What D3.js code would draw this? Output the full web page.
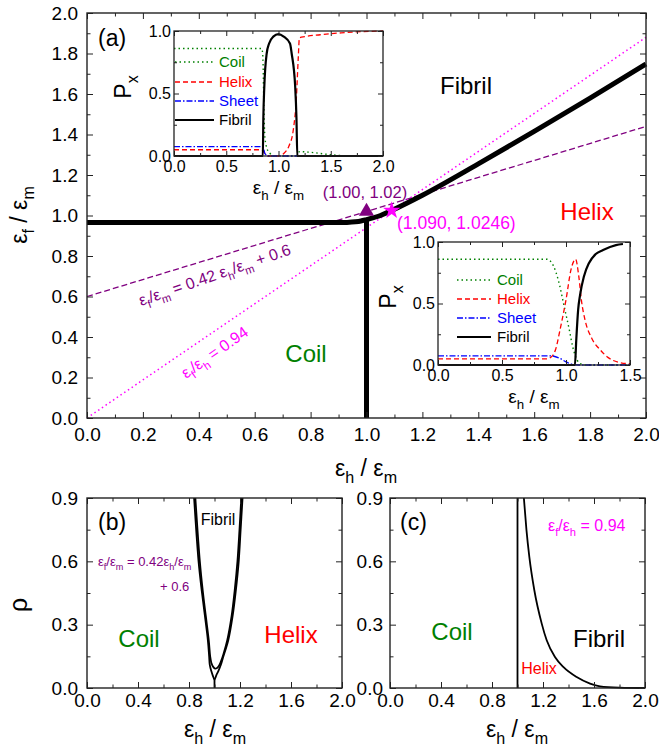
<!DOCTYPE html>
<html><head><meta charset="utf-8">
<script src="https://cdn.jsdelivr.net/npm/d3@7"></script>
<style>body{margin:0;background:#fff}</style>
</head><body>
<svg id="c" width="659" height="748"></svg>
<script>
// ---------------- DATA ----------------
// Panel (a) main phase diagram
const mainXTicks = [0,0.2,0.4,0.6,0.8,1.0,1.2,1.4,1.6,1.8,2.0];
const mainXMinor = [0.1,0.3,0.5,0.7,0.9,1.1,1.3,1.5,1.7,1.9];
const mainYTicks = [0,0.2,0.4,0.6,0.8,1.0,1.2,1.4,1.6,1.8,2.0];
const mainYMinor = [0.1,0.3,0.5,0.7,0.9,1.1,1.3,1.5,1.7,1.9];
const boundaryUpper = [[0,0.965],[0.9,0.965],[0.93,0.966],[0.96,0.969],[0.98,0.973],[1.0,0.98],[1.05,1.0],[1.09,1.0246],[1.2,1.10],[1.4,1.255],[1.6,1.415],[1.8,1.58],[2.0,1.748]];
const boundaryVertical = [[1.0,0],[1.0,0.975]];
const purpleLine = [[0,0.6],[2.0,1.44]];     // εf/εm = 0.42 εh/εm + 0.6
const magentaLine = [[0,0],[2.0,1.88]];      // εf/εh = 0.94
const trianglePoint = [1.00,1.02];
const starPoint = [1.09,1.0246];

// Inset 1 (upper)
const in1XTicks = [0,0.5,1.0,1.5,2.0];
const in1XMinor = [0.25,0.75,1.25,1.75];
const inYTicks = [0,0.5,1.0];
const inYMinor = [0.25,0.75];
const coil1 = [[0,0.86],[0.84,0.86],[0.85,0.8],[0.86,0.4],[0.87,0.15],[0.89,0.06],[0.92,0.02],[0.96,0.0],[1.15,0],[1.18,0.01],[1.2,0.035],[1.3,0.03],[1.5,0.01],[1.7,0.0],[2.0,0]];
const helix1 = [[0,0.05],[0.84,0.05],[0.87,0.02],[0.9,0.0],[1.0,0.0],[1.05,0.02],[1.1,0.08],[1.14,0.2],[1.17,0.45],[1.19,0.8],[1.2,0.945],[1.25,0.955],[1.4,0.97],[1.6,0.985],[1.8,0.995],[2.0,1.0]];
const sheet1 = [[0,0.075],[0.85,0.075],[0.87,0.02],[0.9,0.0],[2.0,0]];
const fibril1 = [[0,0],[0.85,0],[0.855,0.3],[0.864,0.55],[0.887,0.82],[0.91,0.9],[0.95,0.955],[1.0,0.975],[1.05,0.955],[1.11,0.9],[1.126,0.82],[1.16,0.55],[1.172,0.3],[1.18,0],[2.0,0]];

// Inset 2 (lower)
const in2XTicks = [0,0.5,1.0,1.5];
const in2XMinor = [0.25,0.75,1.25];
const coil2 = [[0,0.86],[0.85,0.86],[0.9,0.81],[0.94,0.69],[0.987,0.47],[1.026,0.285],[1.052,0.149],[1.075,0.07],[1.1,0.02],[1.15,0.0],[1.5,0]];
const helix2 = [[0,0.05],[0.85,0.05],[0.89,0.07],[0.92,0.13],[0.95,0.27],[1.0,0.53],[1.04,0.78],[1.075,0.86],[1.1,0.72],[1.12,0.53],[1.15,0.36],[1.2,0.22],[1.27,0.12],[1.33,0.06],[1.42,0.02],[1.5,0.01]];
const sheet2 = [[0,0.075],[0.88,0.075],[0.95,0.055],[1.0,0.025],[1.05,0.005],[1.1,0],[1.5,0]];
const fibril2 = [[0,0],[1.07,0],[1.08,0.2],[1.095,0.45],[1.11,0.57],[1.14,0.72],[1.18,0.83],[1.23,0.9],[1.29,0.935],[1.39,0.975],[1.445,0.984]];

const legendNames = ["Coil","Helix","Sheet","Fibril"];

// Panels (b), (c)
const bcXTicks = [0,0.4,0.8,1.2,1.6,2.0];
const bcXMinor = [0.2,0.6,1.0,1.4,1.8];
const bcYTicks = [0,0.3,0.6,0.9];
const bcYMinor = [0.15,0.45,0.75];
const bOuter = [[0.84,0.9],[0.875,0.6],[0.9,0.46],[0.925,0.34],[0.948,0.226],[0.958,0.15],[0.963,0.11],[0.975,0.08],[0.986,0.06],[1.0,0.04],[1.014,0.06],[1.03,0.08],[1.05,0.11],[1.07,0.15],[1.108,0.226],[1.142,0.34],[1.167,0.46],[1.19,0.6],[1.205,0.75],[1.22,0.9]];
const bInner = [[0.85,0.9],[0.885,0.6],[0.908,0.46],[0.932,0.34],[0.955,0.226],[0.966,0.15],[0.975,0.12],[0.99,0.1],[1.005,0.092],[1.02,0.095],[1.035,0.105],[1.05,0.125],[1.07,0.16],[1.1,0.226],[1.134,0.34],[1.158,0.46],[1.18,0.6],[1.196,0.75],[1.21,0.9]];
const bStem = [[1.0,0],[1.0,0.04]];
const cVertical = [[1.0,0],[1.0,0.9]];
const cCurve = [[1.05,0.9],[1.07,0.75],[1.093,0.62],[1.132,0.463],[1.19,0.305],[1.229,0.226],[1.294,0.147],[1.359,0.1],[1.464,0.052],[1.569,0.021],[1.647,0.008],[1.8,0.002],[2.0,0.0]];

// ---------------- DRAWING ----------------
const FONT = "'Liberation Sans', Arial, Helvetica, sans-serif";
const GREEN="#008000", RED="#ff0000", BLUE="#0000ff", MAG="#ff00ff", PUR="#800080";
const svg = d3.select('#c');
svg.append('rect').attr('width',659).attr('height',748).attr('fill','#fff');

function rich(sel, str, fs){
  const parts=[]; let buf='';
  for(let k=0;k<str.length;k++){const c=str[k]; if(c==='_'){ if(buf) parts.push([buf,false]); buf=''; parts.push([str[k+1],true]); k++; } else buf+=c;}
  if(buf) parts.push([buf,false]);
  let shifted=false;
  parts.forEach(([t,s])=>{
    const ts=sel.append('tspan').text(t);
    if(s){ ts.attr('font-size',fs*0.7); if(!shifted){ts.attr('dy',fs*0.3); shifted=true;} }
    else if(shifted){ ts.attr('dy',-fs*0.3); shifted=false; }
  });
  return sel;
}
function label(g, x, y, str, fs, color, anchor, rot){
  const t=g.append('text').attr('font-family',FONT).attr('font-size',fs).attr('fill',color||'#000')
    .attr('text-anchor',anchor||'start').style('white-space','pre')
    .attr('transform',`translate(${x},${y})`+(rot?` rotate(${rot})`:''));
  rich(t,str,fs);
  return t;
}
function drawAxes(g,x,y,o){
  const [x0,x1]=x.range(), [y0,y1]=y.range();
  const fmt=d3.format('.1f');
  const st=sel=>{sel.select('.domain').remove(); sel.selectAll('line').attr('stroke','#222').attr('stroke-width',1);
    sel.selectAll('text').attr('font-size',o.fs).attr('font-family',FONT).attr('fill','#000');};
  const add=(tr,ax)=>g.append('g').attr('transform',tr).call(ax).call(st);
  add(`translate(0,${y0})`, d3.axisBottom(x).tickValues(o.xMaj).tickSize(-o.maj).tickPadding(o.px).tickFormat(fmt));
  add(`translate(0,${y0})`, d3.axisBottom(x).tickValues(o.xMin).tickSize(-o.min).tickFormat(''));
  add(`translate(0,${y1})`, d3.axisTop(x).tickValues(o.xMaj).tickSize(-o.maj).tickFormat(''));
  add(`translate(0,${y1})`, d3.axisTop(x).tickValues(o.xMin).tickSize(-o.min).tickFormat(''));
  add(`translate(${x0},0)`, d3.axisLeft(y).tickValues(o.yMaj).tickSize(-o.maj).tickPadding(o.py).tickFormat(fmt));
  add(`translate(${x0},0)`, d3.axisLeft(y).tickValues(o.yMin).tickSize(-o.min).tickFormat(''));
  add(`translate(${x1},0)`, d3.axisRight(y).tickValues(o.yMaj).tickSize(-o.maj).tickFormat(''));
  add(`translate(${x1},0)`, d3.axisRight(y).tickValues(o.yMin).tickSize(-o.min).tickFormat(''));
  g.append('rect').attr('x',x0).attr('y',y1).attr('width',x1-x0).attr('height',y0-y1)
    .attr('fill','none').attr('stroke','#222').attr('stroke-width',o.fw||1.3);
}
function path(g,data,x,y,stroke,w,dash,curve){
  const ln=d3.line().x(d=>x(d[0])).y(d=>y(d[1])).curve(curve||d3.curveLinear);
  return g.append('path').attr('d',ln(data)).attr('fill','none').attr('stroke',stroke)
    .attr('stroke-width',w).attr('stroke-dasharray',dash||null);
}

// ---- Panel (a) ----
const xA=d3.scaleLinear([0,2],[87,646]), yA=d3.scaleLinear([0,2],[418,13]);
const gA=svg.append('g');
path(gA,purpleLine,xA,yA,PUR,1.3,'6,3');
path(gA,magentaLine,xA,yA,MAG,1.5,'1.5,3');
path(gA,boundaryUpper,xA,yA,'#000',5,null,d3.curveMonotoneX);
path(gA,boundaryVertical,xA,yA,'#000',5);
gA.append('path').attr('d',d3.symbol(d3.symbolTriangle,100)()).attr('fill',PUR)
  .attr('transform',`translate(${xA(trianglePoint[0])},${yA(trianglePoint[1])})`);
gA.append('path').attr('d',d3.symbol(d3.symbolStar,95)()).attr('fill',MAG)
  .attr('transform',`translate(${xA(starPoint[0])},${yA(starPoint[1])})`);
drawAxes(gA,xA,yA,{xMaj:mainXTicks,xMin:mainXMinor,yMaj:mainYTicks,yMin:mainYMinor,maj:6,min:3.5,px:10,py:9,fs:19,fw:1.4});
label(gA,366,476,'ε_h / ε_m',23,'#000','middle');
label(gA,27,215,'ε_f / ε_m',23,'#000','middle',-90);
label(gA,98,46,'(a)',23);
label(gA,466,94,'Fibril',24,'#000','middle');
label(gA,587,220,'Helix',24,RED,'middle');
label(gA,306,362,'Coil',24,GREEN,'middle');
label(gA,365,198,'(1.00, 1.02)',16.5,PUR,'middle');
label(gA,397,229,'(1.090, 1.0246)',17.5,MAG);
label(gA,141,306,'ε_f/ε_m = 0.42 ε_h/ε_m + 0.6',16,PUR,'start',-19);
label(gA,186,379,'ε_f/ε_h = 0.94',16,MAG,'start',-35);

// ---- Insets ----
function inset(x0,x1,y0,y1,dom,xMaj,xMin,series,leg,titleY,pxX,pxY){
  const x=d3.scaleLinear(dom,[x0,x1]), y=d3.scaleLinear([0,1],[y1,y0]);
  const g=svg.append('g');
  g.append('rect').attr('x',x0).attr('y',y0).attr('width',x1-x0).attr('height',y1-y0).attr('fill','#fff');
  series.forEach(s=>path(g,s.data,x,y,s.color,s.w,s.dash,d3.curveMonotoneX));
  leg.rows.forEach((r,i)=>{
    const s=series[i];
    g.append('line').attr('x1',leg.x1).attr('x2',leg.x2).attr('y1',r-5).attr('y2',r-5)
      .attr('stroke',s.color).attr('stroke-width',s.w).attr('stroke-dasharray',s.dash||null);
    label(g,leg.tx,r,legendNames[i],15,s.color==='#000'?'#000':s.color);
  });
  drawAxes(g,x,y,{xMaj,xMin,yMaj:inYTicks,yMin:inYMinor,maj:5,min:3,px:5,py:3,fs:16,fw:1.3});
  label(g,(x0+x1)/2,titleY,'ε_h / ε_m',19,'#000','middle');
  label(g,pxX,pxY,'P_x',23,'#000','middle',-90);
}
const sty = (d,c,w,dash)=>({data:d,color:c,w,dash});
inset(174,383,31,156,[0,2],in1XTicks,in1XMinor,
  [sty(coil1,GREEN,1.4,'1.5,3'),sty(helix1,RED,1.3,'5,3'),sty(sheet1,BLUE,1.3,'6,2,1.5,2'),sty(fibril1,'#000',2.2)],
  {x1:175,x2:214,tx:219,rows:[67,87,106,125]},194,131,87);
inset(438,630,242,365,[0,1.5],in2XTicks,in2XMinor,
  [sty(coil2,GREEN,1.4,'1.5,3'),sty(helix2,RED,1.3,'5,3'),sty(sheet2,BLUE,1.3,'6,2,1.5,2'),sty(fibril2,'#000',2.2)],
  {x1:457,x2:491,tx:497,rows:[285,304,323,342]},403,396,297);

// ---- Panel (b) ----
const xB=d3.scaleLinear([0,2],[87,342]), yB=d3.scaleLinear([0,0.9],[688,498]);
const gB=svg.append('g');
path(gB,bOuter,xB,yB,'#000',1.8,null,d3.curveCatmullRom);
path(gB,bInner,xB,yB,'#000',1.8,null,d3.curveCatmullRom);
path(gB,bStem,xB,yB,'#000',1.8);
drawAxes(gB,xB,yB,{xMaj:bcXTicks,xMin:bcXMinor,yMaj:bcYTicks,yMin:bcYMinor,maj:6,min:3.5,px:6,py:9,fs:19,fw:1.4});
label(gB,215,737,'ε_h / ε_m',23,'#000','middle');
label(gB,27,605,'ρ',25,'#000','middle',-90);
label(gB,98,530,'(b)',23);
label(gB,218,525,'Fibril',16,'#000','middle');
label(gB,98,566,'ε_f/ε_m = 0.42ε_h/ε_m',13,PUR);
label(gB,160,591,'+ 0.6',13,PUR);
label(gB,139,647,'Coil',24,GREEN,'middle');
label(gB,291,643,'Helix',24,RED,'middle');

// ---- Panel (c) ----
const xC=d3.scaleLinear([0,2],[390,645]), yC=d3.scaleLinear([0,0.9],[688,498]);
const gC=svg.append('g');
path(gC,cVertical,xC,yC,'#000',1.8);
path(gC,cCurve,xC,yC,'#000',1.8,null,d3.curveMonotoneX);
drawAxes(gC,xC,yC,{xMaj:bcXTicks,xMin:bcXMinor,yMaj:bcYTicks,yMin:bcYMinor,maj:6,min:3.5,px:6,py:7,fs:19,fw:1.4});
label(gC,517,737,'ε_h / ε_m',23,'#000','middle');
label(gC,400,530,'(c)',23);
label(gC,548,531,'ε_f/ε_h = 0.94',16,MAG);
label(gC,452,640,'Coil',24,GREEN,'middle');
label(gC,599,647,'Fibril',24,'#000','middle');
label(gC,539,674,'Helix',16,RED,'middle');
</script>
</body></html>
